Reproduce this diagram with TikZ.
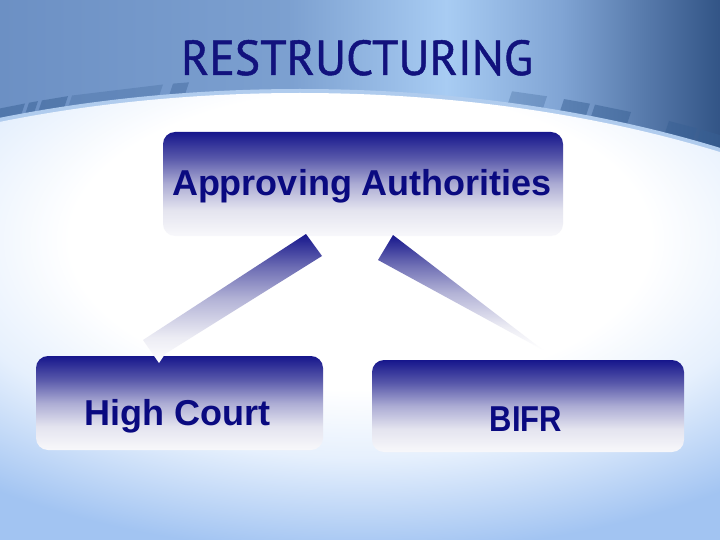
\documentclass[tikz,border=0pt]{standalone}
\usepackage{fontspec}
\usepackage{graphicx}
\setmainfont{Liberation Sans}
\newfontfamily\titlefont[FakeBold=1]{PT Sans}
\usetikzlibrary{calc}

\definecolor{navy}{RGB}{22,22,140}
\definecolor{txtblue}{RGB}{10,10,128}
\definecolor{titleblue}{RGB}{18,18,125}
\definecolor{bxa}{RGB}{88,88,170}
\definecolor{bxb}{RGB}{172,172,212}
\definecolor{bxc}{RGB}{228,228,239}
\definecolor{bxd}{RGB}{248,248,251}
\definecolor{bnda}{RGB}{110,110,180}
\definecolor{bndb}{RGB}{178,178,214}
\definecolor{bndc}{RGB}{236,236,244}
\definecolor{bgblue}{RGB}{162,196,242}
\definecolor{glowa}{RGB}{230,240,253}
\definecolor{tba}{RGB}{108,144,196}
\definecolor{tbb}{RGB}{124,160,208}
\definecolor{tbc}{RGB}{168,204,243}
\definecolor{tbd}{RGB}{128,164,212}
\definecolor{tbe}{RGB}{50,84,134}
\definecolor{tilecol}{RGB}{56,96,148}
\definecolor{rimcol}{RGB}{176,204,238}

\pgfdeclareverticalshading{boxshade}{100bp}{color(0bp)=(bxd); color(25bp)=(bxd); color(37.5bp)=(bxc); color(50bp)=(bxb); color(62.5bp)=(bxa); color(75bp)=(navy); color(100bp)=(navy)}
\pgfdeclareverticalshading{bandshade}{100bp}{color(0bp)=(white); color(25bp)=(white); color(35bp)=(bndc); color(50bp)=(bndb); color(62bp)=(bnda); color(75bp)=(navy); color(100bp)=(navy)}
\pgfdeclarehorizontalshading{topband}{100bp}{color(0bp)=(tba); color(25bp)=(tba); color(45bp)=(tbb); color(56bp)=(tbc); color(64bp)=(tbd); color(75bp)=(tbe); color(100bp)=(tbe)}
\pgfdeclareradialshading{glow}{\pgfpoint{0bp}{0bp}}{color(0bp)=(white); color(11bp)=(white); color(16bp)=(glowa); color(23bp)=(bgblue); color(50bp)=(bgblue)}

\tikzset{
  declare function={arcy(\t)=490-397*sqrt(1-((\t-300)/800)^2);},
  boxnode/.style={rectangle, rounded corners=12pt, shade, shading=boxshade, inner sep=0pt},
  lbl/.style={text=txtblue, font=\bfseries\fontsize{36}{40}\selectfont, inner sep=0pt},
  band/.style={shade, shading=bandshade},
}
\newcommand\mytile[3]{\fill[tilecol, opacity=#3] (#1,{arcy(#1)+6}) -- (#2,{arcy(#2)+6}) -- ({#2+7},{arcy(#2)-15}) -- ({#1+7},{arcy(#1)-15}) -- cycle;}

\begin{document}
\begin{tikzpicture}[x=1pt, y=-1pt]
\useasboundingbox (0,0) rectangle (720,540);
% background
\fill[bgblue] (0,0) rectangle (720,540);
\shade[shading=topband] (0,0) rectangle (720,200);
% decorative tiles
\mytile{-10}{18}{0.5}
\mytile{22}{31}{0.5}
\mytile{35}{61}{0.5}
\mytile{65}{156}{0.28}
\mytile{166}{182}{0.4}
\mytile{505}{540}{0.3}
\mytile{557}{583}{0.5}
\mytile{588}{624}{0.5}
\mytile{662}{690}{0.5}
\mytile{694}{722}{0.5}
% white region
\draw[rimcol, line width=8pt] (300,490) ellipse [x radius=800pt, y radius=397pt];
\begin{scope}
  \clip (300,490) ellipse [x radius=800pt, y radius=397pt];
  \shade[shading=glow] (-300,-100) rectangle (1020,580);
\end{scope}
% title
\node[text=titleblue, anchor=base, inner sep=0pt] (title) at (357,75) {\titlefont\resizebox{352pt}{35pt}{RESTRUCTURING}};
% boxes
\node[boxnode, minimum width=400pt, minimum height=104pt] (top) at (363,184) {};
\node[boxnode, minimum width=287pt, minimum height=94pt] (hc) at (179.5,403) {};
\node[boxnode, minimum width=312pt, minimum height=92pt] (bifr) at (528,406) {};
% labels
\node[lbl, anchor=base] (toplbl) at (362,196) {Approving Authorities};
\node[lbl, anchor=base] (hclbl) at (177.5,425) {High Court};
\node[lbl, anchor=base] (bifrlbl) at (526,431.5) {\scalebox{0.86}[1]{BIFR}};
% connectors
\coordinate (la) at (306,234);
\coordinate (lb) at (322,256);
\coordinate (lc) at (165,354);
\coordinate (lt) at (159,363);
\coordinate (ld) at (143,340);
\path[band] (la) -- (lb) -- (lc) -- (lt) -- (ld) -- cycle;
\coordinate (ra) at (393,235);
\coordinate (rt) at (543,350);
\coordinate (rb) at (378,260);
\path[band] (ra) -- (rt) -- (rb) -- cycle;
\end{tikzpicture}
\end{document}
